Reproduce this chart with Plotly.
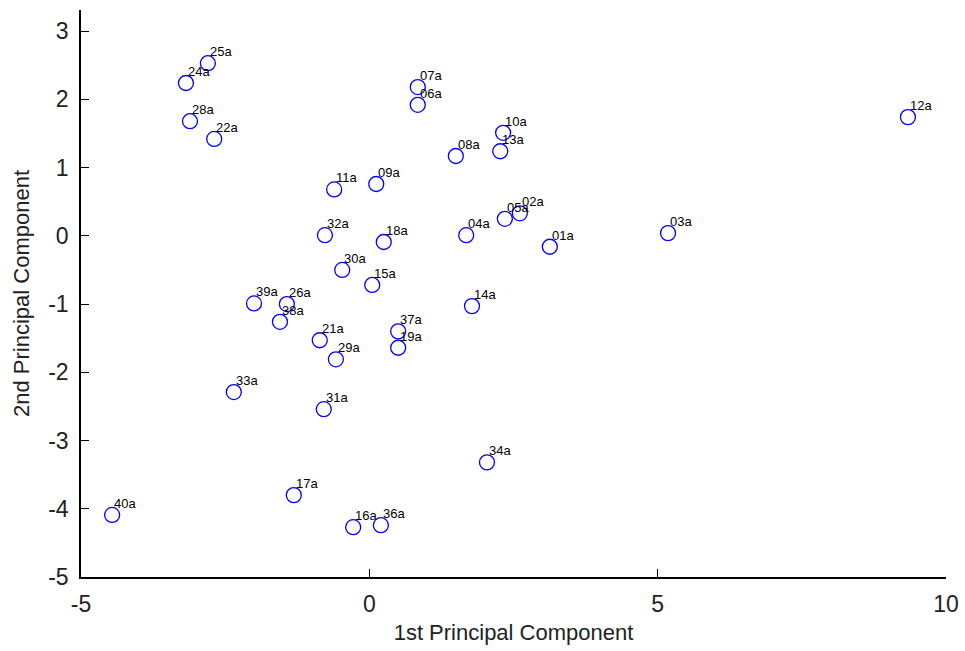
import plotly.graph_objects as go

labels = ["01a", "02a", "03a", "04a", "05a", "06a", "07a", "08a", "09a", "10a",
          "11a", "12a", "13a", "14a", "15a", "16a", "17a", "18a", "19a", "21a",
          "22a", "24a", "25a", "26a", "28a", "29a", "30a", "31a", "32a", "33a",
          "34a", "36a", "37a", "38a", "39a", "40a"]
pc1 = [3.13, 2.61, 5.18, 1.68, 2.35, 0.84, 0.84, 1.50, 0.12, 2.32,
       -0.61, 9.34, 2.27, 1.78, 0.05, -0.28, -1.31, 0.25, 0.50, -0.86,
       -2.69, -3.18, -2.80, -1.43, -3.11, -0.58, -0.47, -0.79, -0.77, -2.35,
       2.04, 0.20, 0.50, -1.55, -2.00, -4.46]
pc2 = [-0.16, 0.33, 0.04, 0.01, 0.25, 1.92, 2.18, 1.17, 0.76, 1.51,
       0.68, 1.74, 1.24, -1.03, -0.72, -4.27, -3.80, -0.09, -1.64, -1.53,
       1.42, 2.24, 2.53, -1.00, 1.68, -1.81, -0.50, -2.54, 0.01, -2.29,
       -3.32, -4.24, -1.40, -1.26, -0.99, -4.09]

x_ticks = [-5, 0, 5, 10]
x_ticktext = ["-5", "0", "5", "10"]
y_ticks = [-5, -4, -3, -2, -1, 0, 1, 2, 3]
y_ticktext = ["-5", "-4", "-3", "-2", "-1", "0", "1", "2", "3"]

fig = go.Figure()
fig.add_trace(go.Scatter(
    x=pc1, y=pc2, mode="markers",
    marker=dict(symbol="circle-open", size=15, color="#0000ff",
                line=dict(width=1.3, color="#0000ff")),
    hoverinfo="skip", showlegend=False,
))

for lab, xv, yv in zip(labels, pc1, pc2):
    fig.add_annotation(x=xv, y=yv, text=lab, showarrow=False,
                       xanchor="left", yanchor="bottom", xshift=0, yshift=2,
                       font=dict(family="Arial, Liberation Sans", size=13, color="black"))

axis_font = dict(family="Arial, Liberation Sans", size=23, color="#222222")
title_font = dict(family="Arial, Liberation Sans", size=22, color="#222222")

fig.update_layout(
    width=965, height=651,
    margin=dict(l=81, r=19, t=10, b=74),
    paper_bgcolor="white", plot_bgcolor="white",
    xaxis=dict(range=[-5, 10], tickvals=x_ticks, ticktext=x_ticktext,
               ticks="inside", ticklen=8, tickwidth=1, tickcolor="black",
               showline=True, linecolor="black", linewidth=1.5, mirror=False,
               showgrid=False, zeroline=False, tickfont=axis_font,
               ticklabelstandoff=6, automargin=False,
               title=dict(text="1st Principal Component", font=title_font, standoff=8)),
    yaxis=dict(range=[-5, 3.31], tickvals=y_ticks, ticktext=y_ticktext,
               ticks="inside", ticklen=8, tickwidth=1, tickcolor="black",
               showline=True, linecolor="black", linewidth=1.5, mirror=False,
               showgrid=False, zeroline=False, tickfont=axis_font,
               ticklabelstandoff=6, automargin=False,
               title=dict(text="2nd Principal Component", font=title_font, standoff=12)),
)

fig.write_html("out.html")
